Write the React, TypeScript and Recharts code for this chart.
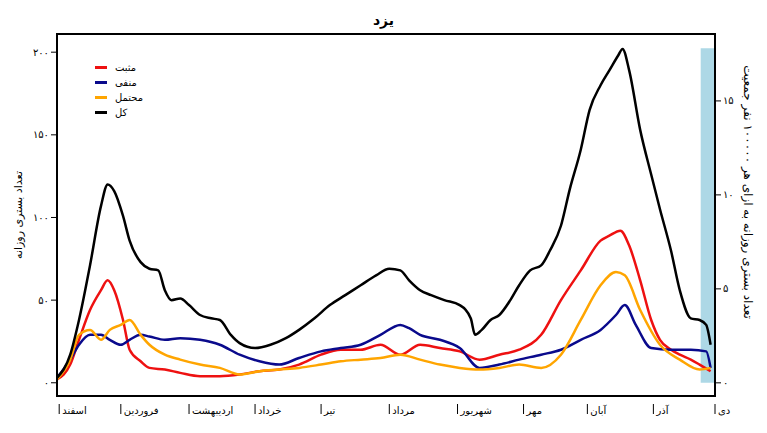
import React from 'react'
import { LineChart, Line, XAxis, YAxis, ReferenceArea } from 'recharts'

const monthTicks = [1, 29, 60, 90, 120, 151, 182, 212, 241, 271, 299]
const monthLabels = ['اسفند', 'فروردین', 'اردیبهشت', 'خرداد', 'تیر', 'مرداد', 'شهریور', 'مهر', 'آبان', 'آذر', 'دی']

const totalDays = [0, 6, 10, 15, 20, 23, 26, 30, 33, 38, 42, 46, 49, 52, 56, 60, 65, 70, 74, 79, 83, 90, 97, 104, 110, 117, 124, 131, 138, 145, 151, 156, 160, 165, 170, 176, 183, 188, 190, 193, 197, 201, 206, 210, 215, 220, 224, 229, 233, 238, 242, 247, 251, 255, 257, 260, 265, 270, 274, 279, 283, 288, 292, 295, 297]
const totalValues = [3, 17, 38, 71, 107, 120, 116, 101, 86, 73, 69, 68, 56, 50, 51, 47, 41, 39, 38, 29, 24, 21, 23, 27, 32, 39, 47, 53, 59, 65, 69, 68, 62, 56, 53, 50, 47, 39, 29, 32, 38, 41, 50, 59, 68, 71, 80, 95, 117, 141, 165, 180, 189, 198, 202, 189, 153, 126, 105, 80, 56, 39, 38, 35, 23]

const positiveDays = [0, 6, 10, 15, 20, 23, 26, 30, 33, 38, 42, 49, 56, 65, 74, 83, 92, 101, 110, 120, 129, 138, 147, 156, 165, 174, 183, 192, 201, 210, 220, 229, 238, 247, 251, 256, 260, 265, 270, 274, 279, 283, 288, 292, 297]
const positiveValues = [2, 11, 26, 44, 56, 62, 56, 38, 20, 13, 9, 8, 6, 4, 4, 5, 7, 8, 11, 17, 20, 20, 23, 17, 23, 21, 19, 14, 17, 20, 29, 50, 68, 86, 89, 92, 83, 62, 38, 26, 20, 17, 14, 11, 7]

const negativeDays = [0, 6, 10, 15, 20, 24, 29, 33, 38, 42, 49, 56, 65, 74, 83, 92, 101, 110, 120, 129, 138, 147, 156, 160, 165, 174, 183, 192, 201, 210, 220, 229, 238, 247, 254, 258, 263, 270, 279, 288, 295, 297]
const negativeValues = [3, 14, 23, 29, 29, 26, 23, 26, 29, 28, 26, 27, 26, 23, 17, 13, 11, 15, 19, 21, 23, 29, 35, 33, 29, 26, 21, 9, 11, 14, 17, 20, 26, 32, 41, 47, 35, 21, 20, 20, 19, 9]

const probableDays = [0, 6, 10, 15, 20, 24, 29, 33, 38, 42, 49, 56, 65, 74, 83, 92, 101, 110, 120, 129, 138, 147, 156, 165, 174, 183, 192, 201, 210, 220, 229, 238, 247, 254, 258, 265, 274, 283, 292, 297]
const probableValues = [2, 14, 29, 32, 26, 32, 35, 38, 29, 23, 17, 14, 11, 9, 5, 7, 8, 9, 11, 13, 14, 15, 17, 14, 11, 9, 8, 9, 11, 9, 17, 38, 59, 67, 65, 44, 23, 14, 8, 9]

// per-100k scale (right axis) only needs its range
const rateRange = [{ day: 0, r: 0 }, { day: 299, r: 0 }]

const toRows = (days: number[], values: number[]) => days.map((d, i) => ({ day: d, v: values[i] }))

const series = [
  { name: 'مثبت', color: '#ee1111', rows: toRows(positiveDays, positiveValues) },
  { name: 'منفی', color: '#0a0a8c', rows: toRows(negativeDays, negativeValues) },
  { name: 'محتمل', color: '#ffa500', rows: toRows(probableDays, probableValues) },
  { name: 'کل', color: '#000000', rows: toRows(totalDays, totalValues) },
]

const fa = (n: number) => String(n).replace(/\d/g, (d) => '۰۱۲۳۴۵۶۷۸۹'[+d])
const font = '"DejaVu Sans", sans-serif'

// eslint-disable-next-line @typescript-eslint/no-explicit-any
const MonthTick = (props: any) => {
  const { x, y, payload, index } = props
  return (
    <g>
      <line x1={x} y1={y} x2={x} y2={y + 10} stroke='#000' />
      <text x={x + 3} y={y + 10} fontSize={10} textAnchor='start' fill='#000' fontFamily={font}>
        {monthLabels[index] ?? payload.value}
      </text>
    </g>
  )
}

export default function App() {
  return (
    <div style={{ position: 'absolute', left: 0, top: 0, width: 767, height: 433, background: '#fff', fontFamily: font }}>
      <LineChart width={767} height={433} margin={{ top: 34, right: 0, bottom: 0, left: 17 }}>
        <XAxis dataKey='day' type='number' domain={[0, 299]} ticks={monthTicks} tick={<MonthTick />} tickLine={false} axisLine={{ stroke: '#000', strokeWidth: 2 }} allowDuplicatedCategory={false} height={37} />
        <YAxis yAxisId='l' type='number' domain={[-8, 211]} ticks={[0, 50, 100, 150, 200]} tickFormatter={fa} width={40} tick={{ fill: '#000', fontSize: 10 }} axisLine={{ stroke: '#000', strokeWidth: 2 }} tickLine={{ stroke: '#000' }} />
        <YAxis yAxisId='r' orientation='right' type='number' domain={[-0.7, 18.56]} ticks={[0, 5, 10, 15]} tickFormatter={fa} width={52} tick={{ fill: '#000', fontSize: 10 }} axisLine={{ stroke: '#000', strokeWidth: 2 }} tickLine={{ stroke: '#000' }} />
        <Line yAxisId='r' data={rateRange} dataKey='r' stroke='none' dot={false} isAnimationActive={false} legendType='none' />
        <ReferenceArea yAxisId='r' x1={292.5} x2={299} y1={0} y2={17.8} fill='#add8e6' fillOpacity={1} stroke='none' />
        <ReferenceArea yAxisId='l' x1={0} x2={299} y1={-8} y2={211} fill='none' stroke='#000' strokeWidth={2} />
        {series.map((s) => (
          <Line key={s.name} yAxisId='l' data={s.rows} dataKey='v' type='monotone' stroke={s.color} strokeWidth={2.5} dot={false} isAnimationActive={false} />
        ))}
      </LineChart>
      <div style={{ position: 'absolute', left: 0, right: 0, top: 12, textAlign: 'center', fontSize: 14, fontWeight: 'bold' }}>یزد</div>
      <div style={{ position: 'absolute', left: 18, top: 215, transform: 'translate(-50%,-50%) rotate(-90deg)', whiteSpace: 'nowrap', fontSize: 11 }}>تعداد بستری روزانه</div>
      <div style={{ position: 'absolute', left: 748, top: 192, transform: 'translate(-50%,-50%) rotate(90deg)', whiteSpace: 'nowrap', fontSize: 12 }}>تعداد بستری روزانه به ازای هر ۱۰۰۰۰۰ نفر جمعیت</div>
      <div style={{ position: 'absolute', left: 95, top: 60, fontSize: 10, lineHeight: '15px' }}>
        {series.map((s) => (
          <div key={s.name} style={{ display: 'flex', alignItems: 'center' }}>
            <span style={{ width: 12, height: 3, background: s.color, marginRight: 8 }} />
            <span>{s.name}</span>
          </div>
        ))}
      </div>
    </div>
  )
}
